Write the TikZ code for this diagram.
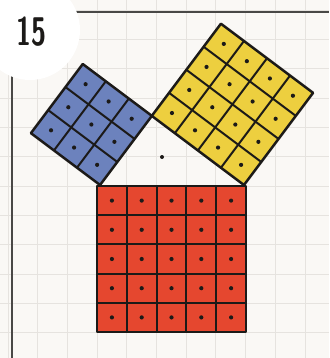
\documentclass[tikz,border=0pt]{standalone}
\usepackage{graphicx}
\usetikzlibrary{calc}
\definecolor{paper}{HTML}{FAF8F5}
\definecolor{gridc}{HTML}{E6E3DF}
\definecolor{ink}{HTML}{1C1A18}
\definecolor{bluesq}{HTML}{6C82BD}
\definecolor{yellowsq}{HTML}{EDCF3F}
\definecolor{redsq}{HTML}{E5472F}
\tikzset{
  cellline/.style={draw=ink, line width=2pt},
  outline/.style={draw=ink, line width=2.5pt, line join=round},
  celldot/.style={fill=ink},
  border/.style={draw=ink!80, line width=2pt},
}
\begin{document}
\begin{tikzpicture}[x=1pt,y=-1pt]
  % paper
  \fill[paper] (0,0) rectangle (329,358);
  \useasboundingbox (0,0) rectangle (329,358);
  % grid
  \foreach \k in {-3,...,8} {
    \draw[gridc, line width=0.8pt] ({97+29.7*\k},0) -- ({97+29.7*\k},358);
  }
  \foreach \k in {-7,...,6} {
    \draw[gridc, line width=0.8pt] (0,{186+29.3*\k}) -- (329,{186+29.3*\k});
  }
  % border lines
  \draw[border] (12,40) -- (12,358);
  \draw[border] (40,12) -- (329,12);
  % label circle
  \fill[white] (30,30) circle (50);
  \node[font=\sffamily\bfseries\fontsize{40}{40}\selectfont, text=ink, inner sep=0pt] (num) at (31,32) {\scalebox{0.68}[1]{15}};
  % triangle vertices
  \coordinate (A) at (100,185);
  \coordinate (B) at (244,185);
  \coordinate (C) at (151.8,115.9);
  % small dot inside triangle
  \fill[ink] (162,157) circle (2);
  % red square (5x5)
  \begin{scope}[shift={(97,186)}, x={(29.8pt,0pt)}, y={(0pt,-29.2pt)}]
    \fill[redsq] (0,0) -- (5,0) -- (5,5) -- (0,5) -- cycle;
    \foreach \k in {1,...,4} {
      \draw[cellline] (\k,0) -- (\k,5);
      \draw[cellline] (0,\k) -- (5,\k);
    }
    \foreach \i in {0,...,4} { \foreach \j in {0,...,4} {
      \fill[celldot] (\i+0.5,\j+0.5) circle (2.1pt);
    }}
    \draw[outline] (0,0) -- (5,0) -- (5,5) -- (0,5) -- cycle;
  \end{scope}
  % blue square (3x3) on AC
  \begin{scope}[shift={(A)}, x={(17.28pt,23.04pt)}, y={(-23.04pt,17.28pt)}]
    \fill[bluesq] (0,0) -- (3,0) -- (3,3) -- (0,3) -- cycle;
    \foreach \k in {1,2} {
      \draw[cellline] (\k,0) -- (\k,3);
      \draw[cellline] (0,\k) -- (3,\k);
    }
    \foreach \i in {0,...,2} { \foreach \j in {0,...,2} {
      \fill[celldot] (\i+0.5,\j+0.5) circle (2.1pt);
    }}
    \draw[outline] (0,0) -- (3,0) -- (3,3) -- (0,3) -- cycle;
  \end{scope}
  % yellow square (4x4) on CB
  \begin{scope}[shift={(C)}, x={(23.04pt,-17.28pt)}, y={(17.28pt,23.04pt)}]
    \fill[yellowsq] (0,0) -- (4,0) -- (4,4) -- (0,4) -- cycle;
    \foreach \k in {1,2,3} {
      \draw[cellline] (\k,0) -- (\k,4);
      \draw[cellline] (0,\k) -- (4,\k);
    }
    \foreach \i in {0,...,3} { \foreach \j in {0,...,3} {
      \fill[celldot] (\i+0.5,\j+0.5) circle (2.1pt);
    }}
    \draw[outline] (0,0) -- (4,0) -- (4,4) -- (0,4) -- cycle;
  \end{scope}
\end{tikzpicture}
\end{document}
